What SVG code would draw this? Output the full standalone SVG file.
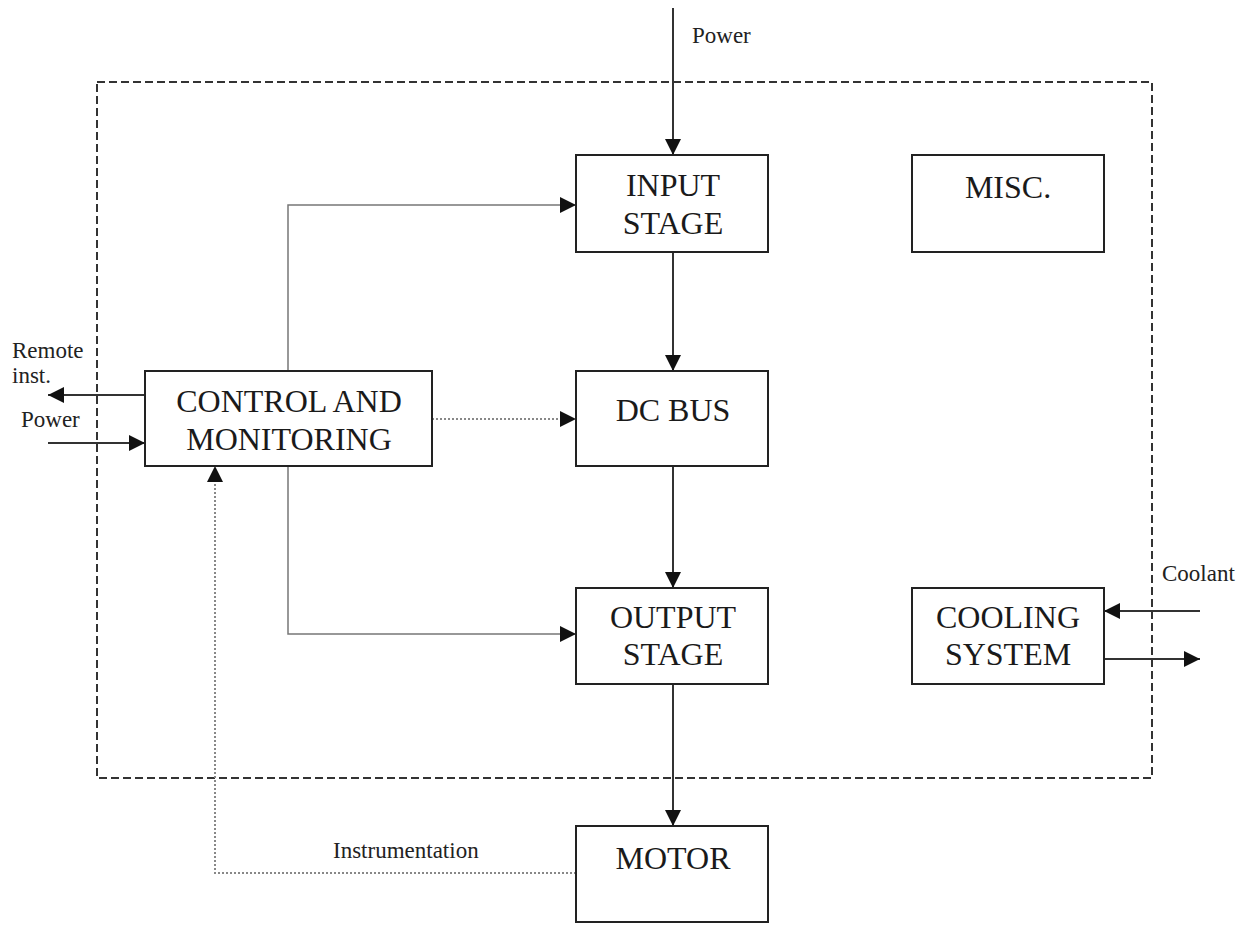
<svg xmlns="http://www.w3.org/2000/svg" width="1248" height="925" viewBox="0 0 1248 925">
<style>
.box{fill:#fff;stroke:#222;stroke-width:2}
.bt{font-family:"Liberation Serif",serif;font-size:32px;fill:#1a1a1a;text-anchor:middle}
.lb{font-family:"Liberation Serif",serif;font-size:23px;fill:#222}
.ln{fill:none;stroke:#333;stroke-width:2}
.gl{fill:none;stroke:#777;stroke-width:1.5}
.dt{fill:none;stroke:#888;stroke-width:2;stroke-dasharray:2 2}
</style>
<defs>
<marker id="ah" viewBox="0 0 10 10" refX="10" refY="5" markerWidth="16" markerHeight="16" markerUnits="userSpaceOnUse" orient="auto"><path d="M0,0L10,5L0,10z" fill="#111"/></marker>
</defs>
<rect x="97" y="82" width="1055" height="696" fill="none" stroke="#333" stroke-width="2" stroke-dasharray="8 4"/>
<g id="connectors">
<line class="ln" x1="673" y1="8" x2="673" y2="155" marker-end="url(#ah)"/>
<line class="ln" x1="673" y1="252" x2="673" y2="371" marker-end="url(#ah)"/>
<line class="ln" x1="673" y1="466" x2="673" y2="588" marker-end="url(#ah)"/>
<line class="ln" x1="673" y1="684" x2="673" y2="826" marker-end="url(#ah)"/>
<polyline class="gl" points="288,371 288,205 576,205" marker-end="url(#ah)"/>
<polyline class="gl" points="288,466 288,634 576,634" marker-end="url(#ah)"/>
<line class="dt" x1="432" y1="419" x2="576" y2="419" marker-end="url(#ah)"/>
<polyline class="dt" points="576,873 215,873 215,466" marker-end="url(#ah)"/>
<line class="ln" x1="145" y1="395" x2="48" y2="395" marker-end="url(#ah)"/>
<line class="ln" x1="48" y1="443" x2="145" y2="443" marker-end="url(#ah)"/>
<line class="ln" x1="1200" y1="611" x2="1104" y2="611" marker-end="url(#ah)"/>
<line class="ln" x1="1104" y1="659" x2="1200" y2="659" marker-end="url(#ah)"/>
<text class="lb" x="692" y="43">Power</text>
<text class="lb" x="12" y="358">Remote</text>
<text class="lb" x="12" y="383">inst.</text>
<text class="lb" x="21" y="427">Power</text>
<text class="lb" x="1162" y="581">Coolant</text>
<text class="lb" x="333" y="858">Instrumentation</text>
</g>
<g id="input"><rect class="box" x="576" y="155" width="192" height="97"/><text class="bt" x="673" y="196">INPUT</text><text class="bt" x="673" y="234">STAGE</text></g>
<g id="misc"><rect class="box" x="912" y="155" width="192" height="97"/><text class="bt" x="1008" y="198">MISC.</text></g>
<g id="control"><rect class="box" x="145" y="371" width="287" height="95"/><text class="bt" x="289" y="412">CONTROL AND</text><text class="bt" x="289" y="450">MONITORING</text></g>
<g id="dcbus"><rect class="box" x="576" y="371" width="192" height="95"/><text class="bt" x="673" y="421">DC BUS</text></g>
<g id="output"><rect class="box" x="576" y="588" width="192" height="96"/><text class="bt" x="673" y="628">OUTPUT</text><text class="bt" x="673" y="665">STAGE</text></g>
<g id="cooling"><rect class="box" x="912" y="588" width="192" height="96"/><text class="bt" x="1008" y="628">COOLING</text><text class="bt" x="1008" y="665">SYSTEM</text></g>
<g id="motor"><rect class="box" x="576" y="826" width="192" height="96"/><text class="bt" x="673" y="869">MOTOR</text></g>
</svg>
